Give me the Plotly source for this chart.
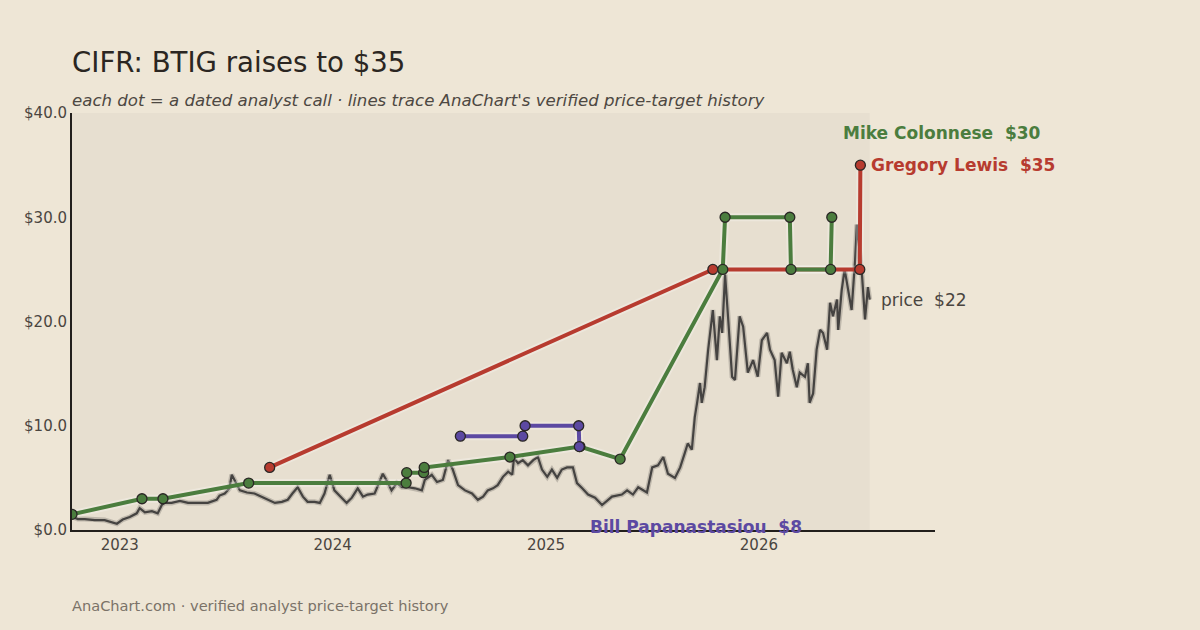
import plotly.graph_objects as go

# ---------------- data ----------------
price_dates = [
    "2022-10-11", "2022-10-21", "2022-11-02", "2022-11-19", "2022-12-06", "2022-12-27",
    "2023-01-06", "2023-01-18", "2023-01-30", "2023-02-04", "2023-02-13", "2023-02-25",
    "2023-03-07", "2023-03-14", "2023-03-19", "2023-03-31", "2023-04-14", "2023-04-28",
    "2023-05-15", "2023-06-01", "2023-06-16", "2023-06-21", "2023-06-30", "2023-07-08",
    "2023-07-12", "2023-07-17", "2023-07-26", "2023-08-07", "2023-08-20", "2023-09-01",
    "2023-09-12", "2023-09-24", "2023-10-06", "2023-10-16", "2023-10-24", "2023-11-02",
    "2023-11-11", "2023-11-19", "2023-12-01", "2023-12-10", "2023-12-18", "2023-12-27",
    "2024-01-04", "2024-01-16", "2024-01-25", "2024-02-03", "2024-02-13", "2024-02-22",
    "2024-03-01", "2024-03-13", "2024-03-22", "2024-03-27", "2024-04-04", "2024-04-11",
    "2024-04-20", "2024-04-29", "2024-05-09", "2024-05-21", "2024-06-02", "2024-06-07",
    "2024-06-19", "2024-06-28", "2024-07-08", "2024-07-17", "2024-07-25", "2024-08-03",
    "2024-08-15", "2024-08-27", "2024-09-06", "2024-09-15", "2024-09-23", "2024-10-02",
    "2024-10-10", "2024-10-19", "2024-10-28", "2024-11-04", "2024-11-07", "2024-11-14",
    "2024-11-22", "2024-12-01", "2024-12-10", "2024-12-18", "2024-12-25", "2025-01-03",
    "2025-01-11", "2025-01-20", "2025-01-28", "2025-02-06", "2025-02-16", "2025-02-23",
    "2025-03-04", "2025-03-14", "2025-03-26", "2025-04-07", "2025-04-24", "2025-05-11",
    "2025-05-20", "2025-05-30", "2025-06-08", "2025-06-23", "2025-07-02", "2025-07-12",
    "2025-07-21", "2025-07-29", "2025-08-10", "2025-08-19", "2025-08-27", "2025-09-01",
    "2025-09-08", "2025-09-13", "2025-09-17", "2025-09-22", "2025-09-25", "2025-09-30",
    "2025-10-06", "2025-10-12", "2025-10-14", "2025-10-21", "2025-10-26", "2025-10-30",
    "2025-11-04", "2025-11-09", "2025-11-16", "2025-11-21", "2025-11-29", "2025-12-05",
    "2025-12-13", "2025-12-22", "2025-12-30", "2026-01-06", "2026-01-15", "2026-01-20",
    "2026-01-28", "2026-02-03", "2026-02-09", "2026-02-18", "2026-02-23", "2026-02-28",
    "2026-03-07", "2026-03-12", "2026-03-21", "2026-03-26", "2026-03-29", "2026-04-04",
    "2026-04-10", "2026-04-16", "2026-04-21", "2026-04-28", "2026-05-03", "2026-05-08",
    "2026-05-15", "2026-05-17", "2026-05-23", "2026-05-28", "2026-06-03", "2026-06-09",
    "2026-06-15", "2026-06-18", "2026-06-27", "2026-07-02", "2026-07-07", "2026-07-10",
]
price_values = [
    1.3, 1.05, 1.05, 0.95, 0.95, 0.6,
    1.0, 1.25, 1.6, 2.1, 1.7, 1.8,
    1.6, 2.4, 2.6, 2.6, 2.8, 2.6,
    2.6, 2.6, 2.9, 3.3, 3.5, 4.0,
    5.3, 4.8, 3.8, 3.6, 3.5, 3.2,
    2.9, 2.6, 2.7, 2.9, 3.5, 4.1,
    3.2, 2.7, 2.7, 2.6, 3.5, 5.3,
    3.8, 3.1, 2.6, 3.1, 4.0, 3.2,
    3.4, 3.5, 4.8, 5.4, 4.6, 3.8,
    4.5, 4.1, 4.1, 4.0, 3.8, 4.8,
    5.3, 4.6, 4.8, 6.7, 5.8, 4.3,
    3.8, 3.5, 2.9, 3.2, 3.8, 4.0,
    4.3, 5.1, 5.6, 5.3, 6.9, 6.4,
    6.7, 6.2, 6.7, 7.0, 5.8, 5.1,
    5.8, 5.0, 5.8, 6.0, 6.0, 4.5,
    4.0, 3.4, 3.1, 2.4, 3.2, 3.4,
    3.8, 3.4, 4.1, 3.6, 6.0, 6.2,
    7.0, 5.4, 5.0, 6.0, 7.4, 8.3,
    7.7, 10.8, 12.2, 14.1, 12.2, 13.7,
    17.3, 20.5, 21.1, 16.3, 20.5, 18.9,
    24.5, 20.5, 14.7, 14.4, 20.5, 19.5,
    15.1, 16.3, 14.7, 18.2, 18.9, 17.3,
    16.3, 12.8, 17.0, 16.0, 17.1, 15.4,
    13.7, 15.1, 14.7, 16.0, 12.2, 13.1,
    17.3, 19.2, 18.9, 17.3, 21.8, 20.5,
    22.1, 19.2, 23.0, 25.0, 23.0, 21.1,
    25.9, 29.3, 24.3, 20.2, 23.3, 22.1,
]

colonnese_dates = [
    "2022-10-11", "2023-02-08", "2023-03-16", "2023-08-10", "2024-05-06", "2024-05-07",
    "2024-06-05", "2024-06-06", "2024-10-31", "2025-02-28", "2025-05-08", "2025-10-31",
    "2025-11-04", "2026-02-23", "2026-02-25", "2026-05-04", "2026-05-06",
]
colonnese_targets = [1.5, 3.0, 3.0, 4.5, 4.5, 5.5, 5.5, 6.0, 7.0, 8.0, 6.8, 25, 30, 30, 25, 25, 30]

lewis_dates = ["2023-09-15", "2025-10-14", "2026-06-23", "2026-06-24"]
lewis_targets = [6.0, 25, 25, 35]

papanastasiou_dates = ["2024-08-07", "2024-11-22", "2024-11-26", "2025-02-26", "2025-02-27"]
papanastasiou_targets = [9.0, 9.0, 10.0, 10.0, 8.0]

year_ticks = ["2023-01-01", "2024-01-01", "2025-01-01", "2026-01-01"]
year_labels = ["2023", "2024", "2025", "2026"]
y_ticks = [0, 10, 20, 30, 40]
y_labels = [f"${v:.1f}" for v in y_ticks]

# ---------------- style ----------------
PAPER = "#EEE6D6"
PLOTBG = "#E7DFD0"
FONT = "DejaVu Sans"
GREEN = "#4B7D3E"
RED = "#B73B2F"
PURPLE = "#5C49A2"
PRICE = "#454341"

fig = go.Figure()

# shaded data area
fig.add_shape(type="rect", xref="x", yref="paper",
              x0=price_dates[0], x1=price_dates[-1], y0=0, y1=1,
              fillcolor=PLOTBG, line_width=0, layer="below")

# price line (halo + line)
fig.add_trace(go.Scatter(x=price_dates, y=price_values, mode="lines",
                         line=dict(color="rgba(70,68,65,0.25)", width=5),
                         hoverinfo="skip", showlegend=False))
fig.add_trace(go.Scatter(x=price_dates, y=price_values, mode="lines",
                         line=dict(color=PRICE, width=2.2), name="price", showlegend=False))

analysts = [
    ("Gregory Lewis", lewis_dates, lewis_targets, RED),
    ("Mike Colonnese", colonnese_dates, colonnese_targets, GREEN),
    ("Bill Papanastasiou", papanastasiou_dates, papanastasiou_targets, PURPLE),
]
for name, d, t, c in analysts:
    fig.add_trace(go.Scatter(x=d, y=t, mode="lines",
                             line=dict(color="rgba(255,255,255,0.25)", width=8),
                             hoverinfo="skip", showlegend=False))
    fig.add_trace(go.Scatter(x=d, y=t, mode="lines+markers", name=name,
                             line=dict(color=c, width=4),
                             marker=dict(size=10, color=c, line=dict(color="#2a2725", width=1.3)),
                             showlegend=False))

# end labels
label_cfg = {
    "Mike Colonnese": (84, GREEN),
    "Gregory Lewis": (0, RED),
    "Bill Papanastasiou": (-80, PURPLE),
}
for name, d, t, c in analysts:
    ys, col = label_cfg[name]
    fig.add_annotation(x=d[-1], y=t[-1], xref="x", yref="y",
                       text=f"<b>{name}\u00a0\u00a0${t[-1]:.0f}</b>",
                       showarrow=False, xanchor="left", yanchor="middle",
                       xshift=9, yshift=ys,
                       font=dict(family=FONT, size=17, color=col))

fig.add_annotation(x=price_dates[-1], y=price_values[-1], xref="x", yref="y",
                   text=f"price\u00a0\u00a0${price_values[-1]:.0f}",
                   showarrow=False, xanchor="left", yanchor="middle", xshift=9,
                   font=dict(family=FONT, size=17, color="#4a4540"))

# title / subtitle / footer
fig.add_annotation(x=0, y=1.12, xref="paper", yref="paper", xanchor="left", yanchor="middle",
                   text="CIFR: BTIG raises to $35", showarrow=False, xshift=-2,
                   font=dict(family=FONT, size=27.6, color="#2b2622"))
fig.add_annotation(x=0, y=1.031, xref="paper", yref="paper", xanchor="left", yanchor="middle",
                   text="<i>each dot = a dated analyst call · lines trace AnaChart's verified price-target history</i>",
                   showarrow=False, xshift=-2, font=dict(family=FONT, size=16.6, color="#4d4842"))
fig.add_annotation(x=0, y=-0.182, xref="paper", yref="paper", xanchor="left", yanchor="middle",
                   text="AnaChart.com · verified analyst price-target history", showarrow=False,
                   xshift=-2, font=dict(family=FONT, size=14.6, color="#7a7268"))

fig.update_layout(
    width=1200, height=630,
    margin=dict(l=72, r=265, t=113, b=100),
    paper_bgcolor=PAPER, plot_bgcolor=PAPER,
    font=dict(family=FONT, size=15, color="#4a4540"),
    showlegend=False,
    xaxis=dict(type="date", range=["2022-10-11", "2026-10-30"],
               tickvals=year_ticks, ticktext=year_labels, ticks="",
               showgrid=False, zeroline=False, showline=True, linecolor="#221f1c", linewidth=2,
               tickfont=dict(size=15, color="#4a4540")),
    yaxis=dict(range=[0, 40], tickvals=y_ticks, ticktext=y_labels, ticks="",
               showgrid=False, zeroline=False, showline=True, linecolor="#221f1c", linewidth=2,
               tickfont=dict(size=15, color="#4a4540")),
)

fig.write_html("out.html")
